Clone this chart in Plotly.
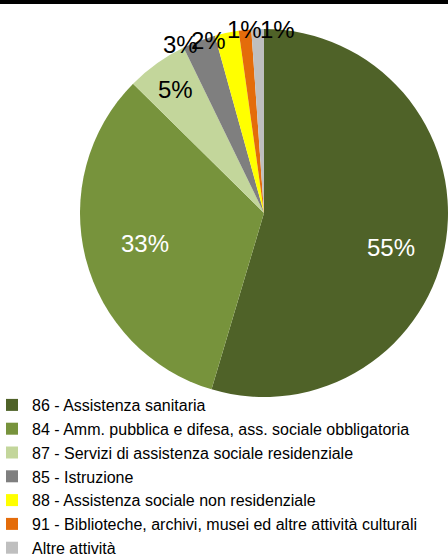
import math
import plotly.graph_objects as go

labels = [
    "86 - Assistenza sanitaria",
    "84 - Amm. pubblica e difesa, ass. sociale obbligatoria",
    "87 - Servizi di assistenza sociale residenziale",
    "85 - Istruzione",
    "88 - Assistenza sociale non residenziale",
    "91 - Biblioteche, archivi, musei ed altre attività culturali",
    "Altre attività",
]
values = [54.6, 32.8, 5.4, 2.9, 2.1, 1.1, 1.1]

# styles
colors = ["#4F6228", "#77933C", "#C3D69B", "#7F7F7F", "#FFFF00", "#E46C0A", "#BFBFBF"]
text_colors = ["white", "white", "black", "black", "black", "black", "black"]
label_radius = [0.70, 0.665, 0.825, 0.98, 0.96, 1.0, 1.0]
label_xanchor = ["center", "center", "center", "right", "right", "center", "left"]
label_yanchor = ["top", "middle", "middle", "middle", "middle", "middle", "middle"]

W, H = 448, 554
cx, cy, r = 264, 213, 184
dom_x = [max(0, (cx - r) / W), min(1, (cx + r) / W)]
dom_y = [1 - (cy + r) / H, 1 - (cy - r) / H]
FONT = "Liberation Sans, Arial, sans-serif"

fig = go.Figure(go.Pie(
    labels=labels,
    values=values,
    sort=False,
    direction="clockwise",
    rotation=0,
    marker=dict(colors=colors, line=dict(width=0)),
    textinfo="none",
    hoverinfo="label+percent",
    domain=dict(x=dom_x, y=dom_y),
    automargin=False,
))

# percentage labels placed at each slice's mid-angle (computed from the values)
total = sum(values)
annotations = []
cum = 0.0
for v, tc, rr, xa, ya in zip(values, text_colors, label_radius, label_xanchor, label_yanchor):
    mid = (cum + v / 2) / total * 2 * math.pi
    cum += v
    px = dom_x[0] + (1 + rr * math.sin(mid)) / 2 * (dom_x[1] - dom_x[0])
    py = dom_y[0] + (1 + rr * math.cos(mid)) / 2 * (dom_y[1] - dom_y[0])
    annotations.append(dict(
        x=px, y=py, xref="paper", yref="paper",
        text=f"{round(v / total * 100)}%",
        showarrow=False, xanchor=xa, yanchor=ya,
        font=dict(family=FONT, size=24, color=tc),
    ))

fig.update_layout(
    width=W, height=H,
    margin=dict(l=0, r=0, t=0, b=0, autoexpand=False),
    paper_bgcolor="white",
    plot_bgcolor="white",
    showlegend=True,
    annotations=annotations,
    legend=dict(
        x=-8 / W, y=1 - 388 / H, xanchor="left", yanchor="top",
        font=dict(family=FONT, size=16, color="black"),
        tracegroupgap=0, itemwidth=30,
        bgcolor="rgba(0,0,0,0)",
    ),
    shapes=[dict(type="rect", xref="paper", yref="paper", x0=0, x1=1, y0=1 - 3.5 / H, y1=1,
                 fillcolor="black", line=dict(color="black", width=1), layer="above")],
)

fig.write_html(
    "out.html",
    config={"displayModeBar": False},
    post_script=(
        "document.body.style.margin='0';document.body.style.padding='0';"
        "document.documentElement.style.margin='0';"
        "document.body.style.overflow='hidden';window.scrollTo(0,0);"
    ),
)
